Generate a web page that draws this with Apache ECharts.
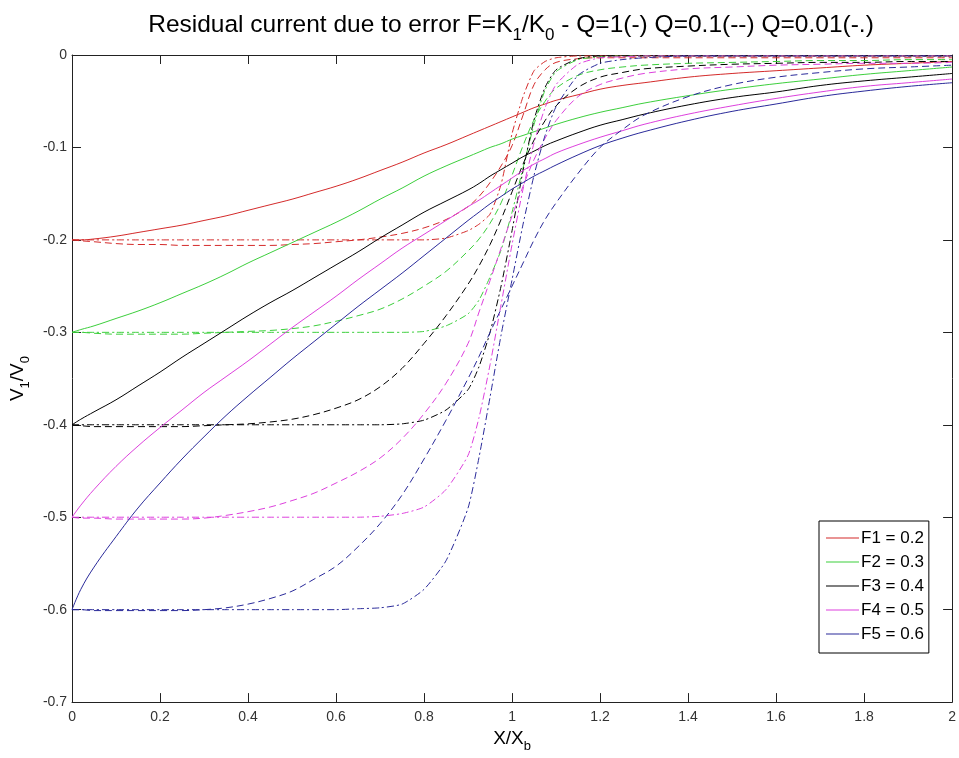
<!DOCTYPE html>
<html>
<head>
<meta charset="utf-8">
<script src="https://cdn.jsdelivr.net/npm/echarts@6/dist/echarts.min.js"></script>
<style>
  html, body { margin: 0; padding: 0; background: #fff; }
  #chart { width: 959px; height: 758px; }
</style>
</head>
<body>
<div id="chart"></div>
<script>
// Normalised position X/Xb (shared sample grid for every curve)
const xs = [0, 0.02, 0.05, 0.1, 0.15,
            0.2, 0.25, 0.3, 0.35, 0.4, 0.45, 0.5, 0.55, 0.6, 0.65, 0.7,
            0.75, 0.8, 0.85, 0.9, 0.925, 0.95, 0.975, 1.0,
            1.025, 1.05, 1.075, 1.1, 1.15, 1.2, 1.25,
            1.3, 1.4, 1.5, 1.6, 1.7, 1.8, 1.9, 2.0];

// Axis ticks
const xTicks = [0, 0.2, 0.4, 0.6, 0.8, 1, 1.2, 1.4, 1.6, 1.8, 2];
const yTicks = [-0.7, -0.6, -0.5, -0.4, -0.3, -0.2, -0.1, 0];

// Error ratios F = K1/K0
const fLabels = ['F1 = 0.2', 'F2 = 0.3', 'F3 = 0.4', 'F4 = 0.5', 'F5 = 0.6'];
const fColors = ['#d42a2a', '#3ccf3c', '#000000', '#dd40dd', '#2a2a9a'];

// V1/V0 for Q = 1 (solid)
const q1F1 = [-0.200,-0.200,-0.199,-0.196,-0.192,
              -0.188,-0.184,-0.179,-0.174,-0.168,-0.162,-0.156,-0.149,-0.142,-0.134,-0.125,
              -0.116,-0.106,-0.097,-0.087,-0.082,-0.077,-0.072,-0.067,
              -0.062,-0.057,-0.053,-0.049,-0.043,-0.037,-0.033,
              -0.030,-0.024,-0.020,-0.017,-0.014,-0.011,-0.009,-0.007];
const q1F2 = [-0.300,-0.297,-0.293,-0.285,-0.277,
              -0.268,-0.258,-0.248,-0.237,-0.225,-0.214,-0.203,-0.192,-0.181,-0.169,-0.156,
              -0.144,-0.131,-0.120,-0.110,-0.105,-0.100,-0.096,-0.091,
              -0.087,-0.083,-0.079,-0.075,-0.068,-0.062,-0.057,
              -0.052,-0.044,-0.037,-0.031,-0.026,-0.021,-0.017,-0.013];
const q1F3 = [-0.400,-0.394,-0.386,-0.373,-0.358,
              -0.343,-0.327,-0.312,-0.297,-0.282,-0.268,-0.255,-0.241,-0.227,-0.213,-0.198,
              -0.184,-0.170,-0.158,-0.146,-0.139,-0.131,-0.124,-0.117,
              -0.110,-0.104,-0.098,-0.093,-0.084,-0.076,-0.070,
              -0.064,-0.054,-0.046,-0.040,-0.033,-0.028,-0.024,-0.020];
const q1F4 = [-0.500,-0.487,-0.470,-0.445,-0.423,
              -0.403,-0.384,-0.365,-0.348,-0.331,-0.313,-0.295,-0.278,-0.261,-0.243,-0.226,
              -0.209,-0.194,-0.179,-0.164,-0.157,-0.149,-0.141,-0.133,
              -0.125,-0.118,-0.112,-0.106,-0.097,-0.089,-0.082,
              -0.075,-0.064,-0.055,-0.047,-0.040,-0.034,-0.030,-0.026];
const q1F5 = [-0.600,-0.578,-0.554,-0.521,-0.490,
              -0.463,-0.437,-0.413,-0.390,-0.369,-0.349,-0.329,-0.310,-0.291,-0.272,-0.254,
              -0.236,-0.217,-0.198,-0.179,-0.170,-0.161,-0.153,-0.145,
              -0.138,-0.131,-0.125,-0.119,-0.108,-0.098,-0.090,
              -0.083,-0.071,-0.061,-0.053,-0.045,-0.039,-0.034,-0.030];

// V1/V0 for Q = 0.1 (dashed)
const q01F1 = [-0.200,-0.201,-0.202,-0.204,-0.205,
               -0.205,-0.206,-0.206,-0.206,-0.206,-0.206,-0.205,-0.204,-0.202,-0.200,-0.197,
               -0.193,-0.187,-0.178,-0.164,-0.153,-0.138,-0.120,-0.098,
               -0.065,-0.032,-0.016,-0.008,-0.004,-0.003,-0.003,
               -0.003,-0.003,-0.003,-0.003,-0.003,-0.003,-0.003,-0.003];
const q01F2 = [-0.300,-0.300,-0.301,-0.302,-0.302,
               -0.302,-0.302,-0.301,-0.300,-0.299,-0.298,-0.296,-0.293,-0.288,-0.282,-0.275,
               -0.264,-0.250,-0.234,-0.212,-0.199,-0.182,-0.160,-0.130,
               -0.098,-0.070,-0.050,-0.036,-0.022,-0.016,-0.013,
               -0.011,-0.009,-0.008,-0.007,-0.006,-0.006,-0.005,-0.005];
const q01F3 = [-0.400,-0.401,-0.402,-0.402,-0.402,
               -0.402,-0.402,-0.401,-0.400,-0.399,-0.397,-0.394,-0.389,-0.382,-0.373,-0.359,
               -0.339,-0.312,-0.282,-0.248,-0.228,-0.205,-0.178,-0.148,
               -0.118,-0.092,-0.071,-0.055,-0.035,-0.024,-0.019,
               -0.015,-0.012,-0.010,-0.009,-0.008,-0.008,-0.007,-0.007];
const q01F4 = [-0.500,-0.501,-0.501,-0.502,-0.502,
               -0.502,-0.502,-0.501,-0.498,-0.494,-0.489,-0.482,-0.474,-0.463,-0.451,-0.436,
               -0.415,-0.388,-0.355,-0.312,-0.278,-0.244,-0.209,-0.174,
               -0.142,-0.113,-0.090,-0.071,-0.045,-0.032,-0.025,
               -0.020,-0.015,-0.013,-0.011,-0.010,-0.009,-0.009,-0.008];
const q01F5 = [-0.600,-0.600,-0.601,-0.601,-0.601,
               -0.601,-0.601,-0.600,-0.598,-0.594,-0.588,-0.580,-0.567,-0.553,-0.532,-0.507,
               -0.476,-0.437,-0.395,-0.350,-0.326,-0.300,-0.275,-0.250,
               -0.225,-0.200,-0.178,-0.160,-0.128,-0.100,-0.081,
               -0.065,-0.045,-0.032,-0.024,-0.019,-0.015,-0.013,-0.011];

// V1/V0 for Q = 0.01 (dash-dot)
const q001F1 = [-0.200,-0.200,-0.200,-0.200,-0.200,
                -0.200,-0.200,-0.200,-0.200,-0.200,-0.200,-0.200,-0.200,-0.200,-0.200,-0.200,
                -0.200,-0.200,-0.198,-0.190,-0.183,-0.172,-0.140,-0.085,
                -0.045,-0.017,-0.007,-0.003,-0.001,-0.001,-0.001,
                -0.001,-0.001,-0.001,-0.001,-0.001,-0.001,-0.001,-0.001];
const q001F2 = [-0.300,-0.300,-0.300,-0.300,-0.300,
                -0.300,-0.300,-0.300,-0.300,-0.300,-0.300,-0.300,-0.300,-0.300,-0.300,-0.300,
                -0.300,-0.299,-0.293,-0.280,-0.265,-0.240,-0.211,-0.170,
                -0.122,-0.075,-0.038,-0.018,-0.005,-0.002,-0.001,
                -0.001,-0.001,-0.001,-0.001,-0.001,-0.001,-0.001,-0.001];
const q001F3 = [-0.400,-0.400,-0.400,-0.400,-0.400,
                -0.400,-0.400,-0.400,-0.400,-0.400,-0.400,-0.400,-0.400,-0.400,-0.400,-0.400,
                -0.399,-0.395,-0.384,-0.362,-0.337,-0.300,-0.250,-0.190,
                -0.125,-0.070,-0.035,-0.016,-0.004,-0.001,-0.001,
                -0.001,-0.001,-0.001,-0.001,-0.001,-0.001,-0.001,-0.001];
const q001F4 = [-0.500,-0.500,-0.500,-0.500,-0.500,
                -0.500,-0.500,-0.500,-0.500,-0.500,-0.500,-0.500,-0.500,-0.500,-0.500,-0.499,
                -0.496,-0.489,-0.470,-0.433,-0.392,-0.335,-0.270,-0.205,
                -0.145,-0.095,-0.057,-0.032,-0.010,-0.003,-0.002,
                -0.001,-0.001,-0.001,-0.001,-0.001,-0.001,-0.001,-0.001];
const q001F5 = [-0.600,-0.600,-0.600,-0.600,-0.600,
                -0.600,-0.600,-0.600,-0.600,-0.600,-0.600,-0.600,-0.600,-0.600,-0.599,-0.598,
                -0.594,-0.578,-0.547,-0.490,-0.435,-0.370,-0.303,-0.243,
                -0.183,-0.130,-0.087,-0.056,-0.022,-0.009,-0.005,
                -0.003,-0.001,-0.001,-0.001,-0.001,-0.001,-0.001,-0.001];

const solidSet = [q1F1, q1F2, q1F3, q1F4, q1F5];
const dashedSet = [q01F1, q01F2, q01F3, q01F4, q01F5];
const dashDotSet = [q001F1, q001F2, q001F3, q001F4, q001F5];

const FONT = '"Liberation Sans", Arial, Helvetica, sans-serif';

function pairs(ys) {
  if (ys.length !== xs.length) console.error('length mismatch', ys.length, xs.length);
  return xs.map((x, i) => [x, ys[i]]);
}

function curve(name, ys, color, dash, smooth) {
  return {
    name: name,
    type: 'line',
    data: pairs(ys),
    symbol: 'none',
    smooth: smooth,
    clip: true,
    silent: true,
    color: color,
    lineStyle: { color: color, width: 1, type: dash },
    emphasis: { disabled: true }
  };
}

const series = [];
for (let i = 0; i < 5; i++) {
  series.push(curve(fLabels[i], solidSet[i], fColors[i], 'solid', 0.4));
  series.push(curve(fLabels[i] + ' (Q=0.1)', dashedSet[i], fColors[i], [7, 4], 0.35));
  series.push(curve(fLabels[i] + ' (Q=0.01)', dashDotSet[i], fColors[i], [7, 3, 2, 3], 0.2));
}

function fmt(v) { return String(Math.round(v * 10) / 10); }

const frameLine = { show: true, onZero: false, lineStyle: { color: '#222', width: 1 } };
const tickIn = { show: true, inside: true, length: 9, lineStyle: { color: '#222', width: 1 } };

const richTxt = (size) => ({
  t: { fontFamily: FONT, fontSize: size, fontWeight: 'normal', color: '#000', lineHeight: Math.round(size * 1.55) },
  s: { fontFamily: FONT, fontSize: Math.round(size * 0.68), fontWeight: 'normal', color: '#000', verticalAlign: 'bottom' }
});

const chart = echarts.init(document.getElementById('chart'), null, { renderer: 'canvas' });
chart.setOption({
  animation: false,
  backgroundColor: '#fff',
  title: {
    text: '{t|Residual current due to error F=K}{s|1}{t|/K}{s|0}{t| - Q=1(-) Q=0.1(--) Q=0.01(-.)}',
    left: 506,
    top: 1,
    textAlign: 'center',
    textStyle: { fontWeight: 'normal', rich: richTxt(24.5) }
  },
  legend: {
    data: fLabels,
    orient: 'vertical',
    left: 819,
    top: 521,
    icon: 'rect',
    itemWidth: 33,
    itemHeight: 1,
    itemGap: 6,
    padding: [8, 5, 10, 7],
    backgroundColor: '#fff',
    borderColor: '#000',
    borderWidth: 1,
    borderRadius: 0,
    selectedMode: false,
    textStyle: { fontFamily: FONT, fontSize: 17, color: '#000', lineHeight: 18, padding: [0, 0, 0, -3] }
  },
  grid: { left: 72, right: 3, top: 55, bottom: 50, containLabel: false },
  xAxis: [
    {
      type: 'value', position: 'bottom',
      min: xTicks[0], max: xTicks[xTicks.length - 1], interval: xTicks[1] - xTicks[0],
      axisLine: frameLine, axisTick: tickIn, splitLine: { show: false },
      axisLabel: { fontFamily: FONT, fontSize: 14, color: '#333', margin: 8, formatter: fmt },
      name: '{t|X/X}{s|b}', nameLocation: 'middle', nameGap: 20,
      nameTextStyle: { rich: richTxt(19) }
    },
    {
      type: 'value', position: 'top',
      min: xTicks[0], max: xTicks[xTicks.length - 1], interval: xTicks[1] - xTicks[0],
      axisLine: frameLine, axisTick: tickIn, splitLine: { show: false }, axisLabel: { show: false }
    }
  ],
  yAxis: [
    {
      type: 'value', position: 'left',
      min: yTicks[0], max: yTicks[yTicks.length - 1], interval: 0.1,
      axisLine: frameLine, axisTick: tickIn, splitLine: { show: false },
      axisLabel: { fontFamily: FONT, fontSize: 14, color: '#333', margin: 5, formatter: fmt },
      name: '{t|V}{s|1}{t|/V}{s|0}', nameLocation: 'middle', nameGap: 38, nameRotate: 90,
      nameTextStyle: { rich: richTxt(19) }
    },
    {
      type: 'value', position: 'right',
      min: yTicks[0], max: yTicks[yTicks.length - 1], interval: 0.1,
      axisLine: frameLine, axisTick: tickIn, splitLine: { show: false }, axisLabel: { show: false }
    }
  ],
  series: series
});
</script>
</body>
</html>
